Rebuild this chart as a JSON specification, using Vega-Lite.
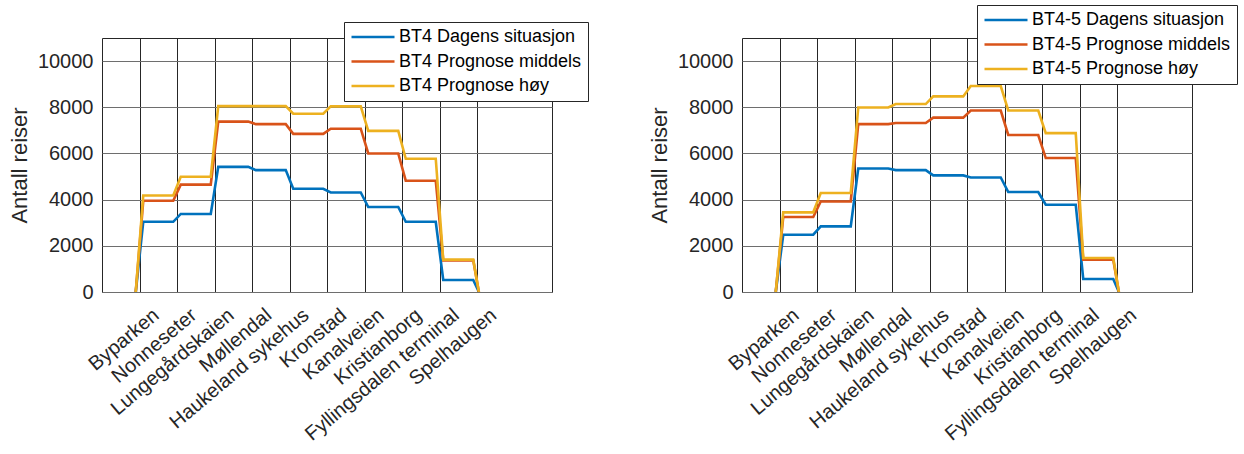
{
  "$schema": "https://vega.github.io/schema/vega-lite/v6.json",
  "background": "white",
  "padding": {"left": 7, "top": 4, "right": 0, "bottom": 0},
  "autosize": {"type": "pad"},
  "spacing": 58,
  "config": {
    "font": "Liberation Sans",
    "view": {"stroke": "#262626", "strokeWidth": 1},
    "axis": {"labelFont": "Liberation Sans", "labelFontSize": 20, "labelColor": "#262626", "titleFont": "Liberation Sans", "titleFontSize": 22, "titleFontWeight": "normal", "titleColor": "#262626", "domain": false, "ticks": false, "gridOpacity": 1, "gridWidth": 1, "labelOverlap": false, "labelLimit": 0},
    "axisX": {"gridColor": "#262626"},
    "axisY": {"gridColor": "#6e6e6e"},
    "legend": {"orient": "none", "symbolType": "stroke", "symbolSize": 1849, "symbolStrokeWidth": 2.6, "clipHeight": 18, "rowPadding": 6.5, "padding": 6, "labelFontSize": 18, "labelFont": "Liberation Sans", "labelColor": "#000000", "labelOffset": 3, "labelLimit": 400, "strokeColor": "#262626", "fillColor": "white", "symbolOffset": 0}
  },
  "resolve": {"scale": {"color": "independent"}},
  "datasets": {
    "bt4": [
      {"s": "BT4 Dagens situasjon", "x": 0.9, "y": 0}, {"s": "BT4 Dagens situasjon", "x": 1.1, "y": 3040}, {"s": "BT4 Dagens situasjon", "x": 1.9, "y": 3040},
      {"s": "BT4 Dagens situasjon", "x": 2.1, "y": 3380}, {"s": "BT4 Dagens situasjon", "x": 2.9, "y": 3380},
      {"s": "BT4 Dagens situasjon", "x": 3.1, "y": 5420}, {"s": "BT4 Dagens situasjon", "x": 3.9, "y": 5420},
      {"s": "BT4 Dagens situasjon", "x": 4.1, "y": 5280}, {"s": "BT4 Dagens situasjon", "x": 4.9, "y": 5280},
      {"s": "BT4 Dagens situasjon", "x": 5.1, "y": 4470}, {"s": "BT4 Dagens situasjon", "x": 5.9, "y": 4470},
      {"s": "BT4 Dagens situasjon", "x": 6.1, "y": 4310}, {"s": "BT4 Dagens situasjon", "x": 6.9, "y": 4310},
      {"s": "BT4 Dagens situasjon", "x": 7.1, "y": 3680}, {"s": "BT4 Dagens situasjon", "x": 7.9, "y": 3680},
      {"s": "BT4 Dagens situasjon", "x": 8.1, "y": 3040}, {"s": "BT4 Dagens situasjon", "x": 8.9, "y": 3040},
      {"s": "BT4 Dagens situasjon", "x": 9.1, "y": 520}, {"s": "BT4 Dagens situasjon", "x": 9.9, "y": 520},
      {"s": "BT4 Dagens situasjon", "x": 10.05, "y": 0},
      {"s": "BT4 Prognose middels", "x": 0.9, "y": 0}, {"s": "BT4 Prognose middels", "x": 1.1, "y": 3950}, {"s": "BT4 Prognose middels", "x": 1.9, "y": 3950},
      {"s": "BT4 Prognose middels", "x": 2.1, "y": 4650}, {"s": "BT4 Prognose middels", "x": 2.9, "y": 4650},
      {"s": "BT4 Prognose middels", "x": 3.1, "y": 7380}, {"s": "BT4 Prognose middels", "x": 3.9, "y": 7380},
      {"s": "BT4 Prognose middels", "x": 4.1, "y": 7270}, {"s": "BT4 Prognose middels", "x": 4.9, "y": 7270},
      {"s": "BT4 Prognose middels", "x": 5.1, "y": 6850}, {"s": "BT4 Prognose middels", "x": 5.9, "y": 6850},
      {"s": "BT4 Prognose middels", "x": 6.1, "y": 7070}, {"s": "BT4 Prognose middels", "x": 6.9, "y": 7070},
      {"s": "BT4 Prognose middels", "x": 7.1, "y": 6000}, {"s": "BT4 Prognose middels", "x": 7.9, "y": 6000},
      {"s": "BT4 Prognose middels", "x": 8.1, "y": 4820}, {"s": "BT4 Prognose middels", "x": 8.9, "y": 4820},
      {"s": "BT4 Prognose middels", "x": 9.1, "y": 1370}, {"s": "BT4 Prognose middels", "x": 9.9, "y": 1370},
      {"s": "BT4 Prognose middels", "x": 10.05, "y": 0},
      {"s": "BT4 Prognose høy", "x": 0.9, "y": 0}, {"s": "BT4 Prognose høy", "x": 1.1, "y": 4180}, {"s": "BT4 Prognose høy", "x": 1.9, "y": 4180},
      {"s": "BT4 Prognose høy", "x": 2.1, "y": 4990}, {"s": "BT4 Prognose høy", "x": 2.9, "y": 4990},
      {"s": "BT4 Prognose høy", "x": 3.1, "y": 8050}, {"s": "BT4 Prognose høy", "x": 3.9, "y": 8050},
      {"s": "BT4 Prognose høy", "x": 4.1, "y": 8050}, {"s": "BT4 Prognose høy", "x": 4.9, "y": 8050},
      {"s": "BT4 Prognose høy", "x": 5.1, "y": 7720}, {"s": "BT4 Prognose høy", "x": 5.9, "y": 7720},
      {"s": "BT4 Prognose høy", "x": 6.1, "y": 8040}, {"s": "BT4 Prognose høy", "x": 6.9, "y": 8040},
      {"s": "BT4 Prognose høy", "x": 7.1, "y": 6980}, {"s": "BT4 Prognose høy", "x": 7.9, "y": 6980},
      {"s": "BT4 Prognose høy", "x": 8.1, "y": 5770}, {"s": "BT4 Prognose høy", "x": 8.9, "y": 5770},
      {"s": "BT4 Prognose høy", "x": 9.1, "y": 1400}, {"s": "BT4 Prognose høy", "x": 9.9, "y": 1400},
      {"s": "BT4 Prognose høy", "x": 10.05, "y": 0}
    ],
    "bt45": [
      {"s": "BT4-5 Dagens situasjon", "x": 0.9, "y": 0}, {"s": "BT4-5 Dagens situasjon", "x": 1.1, "y": 2480}, {"s": "BT4-5 Dagens situasjon", "x": 1.9, "y": 2480},
      {"s": "BT4-5 Dagens situasjon", "x": 2.1, "y": 2840}, {"s": "BT4-5 Dagens situasjon", "x": 2.9, "y": 2840},
      {"s": "BT4-5 Dagens situasjon", "x": 3.1, "y": 5350}, {"s": "BT4-5 Dagens situasjon", "x": 3.9, "y": 5350},
      {"s": "BT4-5 Dagens situasjon", "x": 4.1, "y": 5280}, {"s": "BT4-5 Dagens situasjon", "x": 4.9, "y": 5280},
      {"s": "BT4-5 Dagens situasjon", "x": 5.1, "y": 5050}, {"s": "BT4-5 Dagens situasjon", "x": 5.9, "y": 5050},
      {"s": "BT4-5 Dagens situasjon", "x": 6.1, "y": 4960}, {"s": "BT4-5 Dagens situasjon", "x": 6.9, "y": 4960},
      {"s": "BT4-5 Dagens situasjon", "x": 7.1, "y": 4330}, {"s": "BT4-5 Dagens situasjon", "x": 7.9, "y": 4330},
      {"s": "BT4-5 Dagens situasjon", "x": 8.1, "y": 3780}, {"s": "BT4-5 Dagens situasjon", "x": 8.9, "y": 3780},
      {"s": "BT4-5 Dagens situasjon", "x": 9.1, "y": 560}, {"s": "BT4-5 Dagens situasjon", "x": 9.9, "y": 560},
      {"s": "BT4-5 Dagens situasjon", "x": 10.05, "y": 0},
      {"s": "BT4-5 Prognose middels", "x": 0.9, "y": 0}, {"s": "BT4-5 Prognose middels", "x": 1.1, "y": 3250}, {"s": "BT4-5 Prognose middels", "x": 1.9, "y": 3250},
      {"s": "BT4-5 Prognose middels", "x": 2.1, "y": 3920}, {"s": "BT4-5 Prognose middels", "x": 2.9, "y": 3920},
      {"s": "BT4-5 Prognose middels", "x": 3.1, "y": 7270}, {"s": "BT4-5 Prognose middels", "x": 3.9, "y": 7270},
      {"s": "BT4-5 Prognose middels", "x": 4.1, "y": 7320}, {"s": "BT4-5 Prognose middels", "x": 4.9, "y": 7320},
      {"s": "BT4-5 Prognose middels", "x": 5.1, "y": 7550}, {"s": "BT4-5 Prognose middels", "x": 5.9, "y": 7550},
      {"s": "BT4-5 Prognose middels", "x": 6.1, "y": 7860}, {"s": "BT4-5 Prognose middels", "x": 6.9, "y": 7860},
      {"s": "BT4-5 Prognose middels", "x": 7.1, "y": 6800}, {"s": "BT4-5 Prognose middels", "x": 7.9, "y": 6800},
      {"s": "BT4-5 Prognose middels", "x": 8.1, "y": 5800}, {"s": "BT4-5 Prognose middels", "x": 8.9, "y": 5800},
      {"s": "BT4-5 Prognose middels", "x": 9.1, "y": 1400}, {"s": "BT4-5 Prognose middels", "x": 9.9, "y": 1400},
      {"s": "BT4-5 Prognose middels", "x": 10.05, "y": 0},
      {"s": "BT4-5 Prognose høy", "x": 0.9, "y": 0}, {"s": "BT4-5 Prognose høy", "x": 1.1, "y": 3450}, {"s": "BT4-5 Prognose høy", "x": 1.9, "y": 3450},
      {"s": "BT4-5 Prognose høy", "x": 2.1, "y": 4290}, {"s": "BT4-5 Prognose høy", "x": 2.9, "y": 4290},
      {"s": "BT4-5 Prognose høy", "x": 3.1, "y": 7990}, {"s": "BT4-5 Prognose høy", "x": 3.9, "y": 7990},
      {"s": "BT4-5 Prognose høy", "x": 4.1, "y": 8140}, {"s": "BT4-5 Prognose høy", "x": 4.9, "y": 8140},
      {"s": "BT4-5 Prognose høy", "x": 5.1, "y": 8470}, {"s": "BT4-5 Prognose høy", "x": 5.9, "y": 8470},
      {"s": "BT4-5 Prognose høy", "x": 6.1, "y": 8920}, {"s": "BT4-5 Prognose høy", "x": 6.9, "y": 8920},
      {"s": "BT4-5 Prognose høy", "x": 7.1, "y": 7860}, {"s": "BT4-5 Prognose høy", "x": 7.9, "y": 7860},
      {"s": "BT4-5 Prognose høy", "x": 8.1, "y": 6880}, {"s": "BT4-5 Prognose høy", "x": 8.9, "y": 6880},
      {"s": "BT4-5 Prognose høy", "x": 9.1, "y": 1470}, {"s": "BT4-5 Prognose høy", "x": 9.9, "y": 1470},
      {"s": "BT4-5 Prognose høy", "x": 10.05, "y": 0}
    ]
  },
  "hconcat": [
    {
      "width": 450, "height": 254,
      "data": {"name": "bt4"},
      "mark": {"type": "line", "strokeWidth": 2.6},
      "encoding": {
        "x": {"field": "x", "type": "quantitative", "scale": {"domain": [0, 12], "nice": false, "zero": false},
              "axis": {"title": null, "values": [1, 2, 3, 4, 5, 6, 7, 8, 9, 10], "labelAngle": -40, "labelAlign": "right", "labelBaseline": "top", "labelPadding": 12.5, "labelOffset": 10,
                       "labelExpr": "['','Byparken','Nonneseter','Lungegårdskaien','Møllendal','Haukeland sykehus','Kronstad','Kanalveien','Kristianborg','Fyllingsdalen terminal','Spelhaugen'][datum.value]"}},
        "y": {"field": "y", "type": "quantitative", "scale": {"domain": [0, 11000], "nice": false},
              "axis": {"title": "Antall reiser", "values": [0, 2000, 4000, 6000, 8000, 10000], "format": "d", "labelPadding": 9, "titlePadding": 6}},
        "color": {"field": "s", "type": "nominal",
                  "scale": {"domain": ["BT4 Dagens situasjon", "BT4 Prognose middels", "BT4 Prognose høy"], "range": ["#0072BD", "#D95319", "#EDB120"]},
                  "legend": {"title": null, "legendX": 242, "legendY": -16}}
      }
    },
    {
      "width": 450, "height": 254,
      "data": {"name": "bt45"},
      "mark": {"type": "line", "strokeWidth": 2.6},
      "encoding": {
        "x": {"field": "x", "type": "quantitative", "scale": {"domain": [0, 12], "nice": false, "zero": false},
              "axis": {"title": null, "values": [1, 2, 3, 4, 5, 6, 7, 8, 9, 10], "labelAngle": -40, "labelAlign": "right", "labelBaseline": "top", "labelPadding": 12.5, "labelOffset": 10,
                       "labelExpr": "['','Byparken','Nonneseter','Lungegårdskaien','Møllendal','Haukeland sykehus','Kronstad','Kanalveien','Kristianborg','Fyllingsdalen terminal','Spelhaugen'][datum.value]"}},
        "y": {"field": "y", "type": "quantitative", "scale": {"domain": [0, 11000], "nice": false},
              "axis": {"title": "Antall reiser", "values": [0, 2000, 4000, 6000, 8000, 10000], "format": "d", "labelPadding": 9, "titlePadding": 6}},
        "color": {"field": "s", "type": "nominal",
                  "scale": {"domain": ["BT4-5 Dagens situasjon", "BT4-5 Prognose middels", "BT4-5 Prognose høy"], "range": ["#0072BD", "#D95319", "#EDB120"]},
                  "legend": {"title": null, "legendX": 235, "legendY": -33}}
      }
    }
  ]
}
